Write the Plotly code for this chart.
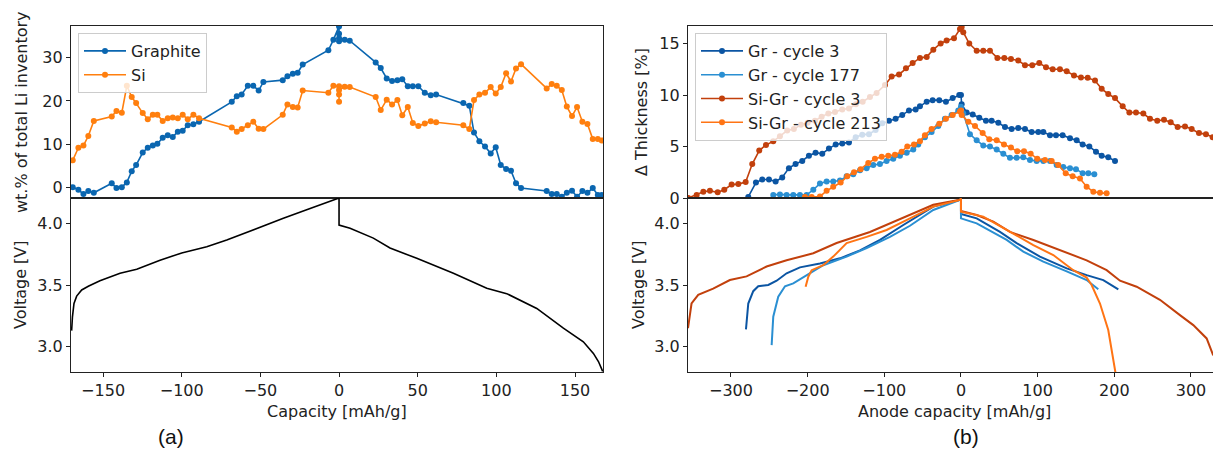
import plotly.graph_objects as go

# ---------------- (a) lithium inventory split vs. full-cell capacity ----------------
cap_li = [-169.3, -165.7, -162.5, -159.4, -155.9, -144.5, -141.5, -138.1, -134.9, -131.8,
          -129.0, -124.8, -121.6, -118.4, -115.5, -112.1, -108.9, -105.7, -102.5, -99.4,
          -96.2, -92.6, -89.0, -68.2, -65.0, -61.9, -58.0, -54.5, -51.1, -48.1,
          -35.8, -32.8, -29.4, -26.3, -23.1, -6.8, -3.6, 0.0, 0.0, 0.0,
          0.0, 3.6, 6.8, 23.3, 26.5, 30.3, 33.7, 37.1, 40.2, 43.7,
          46.9, 50.4, 54.5, 58.3, 61.7, 79.0, 82.8, 85.8, 89.2, 92.8,
          96.4, 99.6, 102.8, 106.2, 109.3, 112.5, 115.7, 132.0, 135.2, 138.4,
          141.6, 144.8, 148.1, 151.3, 154.7, 157.9, 161.3, 164.5, 167.0]
graphite_li = [0.1, -0.5, -1.5, -0.8, -1.2, 1.0, -0.1, 0.1, 1.2, 3.8,
               5.2, 8.1, 9.2, 9.7, 10.1, 11.5, 12.1, 11.7, 12.9, 13.1,
               14.4, 14.6, 15.2, 19.8, 21.1, 21.5, 23.5, 23.5, 22.4, 24.4,
               24.8, 25.7, 26.3, 26.5, 28.4, 31.7, 34.1, 37.2, 33.8, 35.5,
               34.5, 34.1, 33.9, 28.9, 27.6, 25.2, 24.6, 24.8, 25.0, 23.4,
               23.4, 23.4, 21.9, 21.3, 21.5, 19.5, 18.9, 12.7, 10.7, 9.5,
               7.9, 9.3, 5.2, 4.3, 3.9, 1.0, -0.1, -0.8, -1.5, -1.5,
               -2.1, -1.2, -0.7, -2.1, -0.8, -1.2, -0.1, -1.7, -1.7]
si_li = [6.3, 9.2, 9.7, 11.9, 15.4, 16.4, 17.7, 17.3, 23.5, 20.9,
         19.5, 17.2, 15.8, 16.8, 16.8, 15.4, 16.0, 16.2, 16.0, 16.8,
         15.8, 16.8, 16.0, 13.9, 12.9, 13.5, 14.4, 15.2, 13.6, 13.5,
         16.8, 19.2, 18.6, 18.5, 22.4, 21.9, 23.5, 23.4, 19.8, 21.5,
         22.5, 23.3, 23.2, 20.9, 17.9, 20.3, 19.2, 20.2, 16.7, 18.6,
         14.9, 14.2, 14.8, 15.3, 15.1, 14.4, 13.5, 20.2, 21.5, 21.9,
         23.2, 21.7, 23.2, 26.4, 24.5, 27.5, 28.5, 22.9, 23.9, 23.5,
         22.5, 18.7, 16.5, 18.6, 15.2, 14.7, 11.2, 11.2, 10.9]

cap_cell = [-170.0, -169.5, -168.5, -166.8, -163.6, -159.4, -152.0, -139.2, -128.6, -113.8,
            -100.0, -84.1, -71.4, -50.2, -35.4, -18.4, -1.5, 0.0, 0.0, 7.0,
            21.8, 32.4, 49.4, 72.7, 93.9, 106.6, 125.7, 142.6, 155.3, 161.7,
            164.9, 167.6]
volt_cell = [3.13, 3.24, 3.35, 3.41, 3.46, 3.49, 3.535, 3.595, 3.627, 3.70,
             3.76, 3.81, 3.865, 3.97, 4.04, 4.12, 4.20, 4.205, 3.986, 3.96,
             3.88, 3.80, 3.716, 3.595, 3.473, 3.43, 3.31, 3.15, 3.04, 2.946,
             2.88, 2.80]

# ---------------- (b) electrode thickness change vs. anode capacity ----------------
gr3_cap = [-277.4, -267.4, -259.2, -250.4, -241.7, -233.1, -224.4, -215.7, -207.0, -198.3,
           -189.6, -180.9, -172.2, -163.4, -154.8, -146.1, -137.3, -128.7, -120.0, -111.3,
           -102.6, -93.9, -85.2, -76.6, -67.8, -59.1, -53.5, -44.7, -37.0, -28.3,
           -19.6, -10.8, -2.2, 0.0, 0.9, 7.4, 15.3, 23.9, 32.6, 40.0,
           48.7, 57.4, 66.1, 74.7, 83.5, 92.2, 100.8, 107.4, 116.1, 123.9,
           132.6, 142.2, 150.9, 158.7, 167.4, 176.1, 183.5, 192.1, 200.9]
gr3_thk = [0.1, 1.5, 1.8, 1.8, 1.6, 2.0, 2.9, 3.3, 3.6, 4.1,
           4.4, 4.3, 4.8, 5.2, 5.3, 5.4, 5.9, 6.15, 6.2, 6.6,
           7.25, 7.5, 7.7, 8.05, 8.5, 8.6, 8.9, 9.35, 9.5, 9.5,
           9.35, 9.7, 10.0, 10.0, 9.1, 8.3, 8.1, 7.8, 7.5, 7.5,
           7.3, 6.9, 6.7, 6.8, 6.7, 6.4, 6.4, 6.4, 6.1, 6.1,
           6.1, 5.8, 5.6, 5.2, 5.0, 4.5, 4.1, 3.95, 3.6]

gr177_cap = [-244.8, -236.1, -227.4, -218.7, -210.0, -201.3, -192.6, -183.9, -175.2, -166.6,
             -157.8, -149.1, -140.5, -131.7, -123.0, -114.4, -105.7, -97.0, -88.3, -79.6,
             -70.8, -62.2, -55.7, -47.0, -38.3, -29.6, -20.9, -12.2, -3.5, 0.0,
             3.0, 11.7, 20.5, 29.1, 37.8, 46.6, 55.2, 63.9, 72.6, 81.3,
             90.0, 98.7, 107.4, 116.1, 124.8, 133.4, 142.2, 150.0, 158.7, 166.1,
             173.9]
gr177_thk = [0.3, 0.35, 0.3, 0.3, 0.3, 0.3, 0.8, 1.4, 1.6, 1.6,
             1.7, 2.1, 2.3, 2.7, 2.9, 3.2, 3.3, 3.6, 3.8, 4.1,
             4.4, 4.7, 5.2, 5.9, 6.4, 7.0, 7.7, 8.05, 8.5, 8.85,
             8.2, 6.2, 5.6, 5.1, 5.0, 4.7, 4.3, 3.9, 3.9, 3.95,
             3.7, 3.6, 3.6, 3.6, 3.2, 3.0, 2.9, 2.8, 2.4, 2.4,
             2.3]

sigr3_cap = [-355.7, -344.7, -336.0, -327.4, -317.3, -308.7, -299.1, -290.4, -280.8, -272.2,
             -263.1, -254.3, -244.8, -236.1, -226.6, -217.9, -208.7, -200.0, -190.4, -181.7,
             -173.0, -164.3, -154.8, -146.1, -137.0, -128.2, -118.7, -110.0, -99.1, -90.4,
             -80.8, -71.7, -63.0, -53.5, -44.7, -36.1, -26.5, -18.7, -9.1, -1.3,
             0.9, 3.0, 10.8, 20.5, 29.1, 37.8, 47.5, 56.5, 65.2, 74.7,
             83.5, 93.0, 102.1, 110.9, 119.6, 129.1, 137.9, 147.4, 156.5, 165.3,
             174.8, 183.5, 192.1, 200.9, 210.9, 219.6, 228.3, 237.8, 246.5, 256.0,
             264.8, 273.5, 282.6, 292.2, 300.9, 310.4, 319.5, 328.2]
sigr3_thk = [0.0, 0.3, 0.6, 0.7, 0.55, 0.8, 1.3, 1.35, 1.55, 3.3,
             4.6, 5.15, 5.5, 6.0, 6.55, 6.7, 7.1, 7.3, 7.5, 7.9,
             8.2, 8.35, 8.6, 8.7, 9.1, 9.35, 9.8, 10.2, 10.97, 11.8,
             12.0, 12.6, 13.1, 13.6, 13.7, 14.4, 15.0, 15.3, 15.5, 16.4,
             16.6, 16.1, 15.0, 14.3, 14.3, 14.3, 13.6, 13.6, 13.5, 13.35,
             12.9, 12.9, 13.1, 12.7, 12.5, 12.5, 12.3, 11.9, 11.7, 11.67,
             11.4, 10.6, 10.1, 9.7, 8.9, 8.3, 8.3, 8.2, 7.7, 7.5,
             7.6, 7.35, 6.9, 6.95, 6.7, 6.3, 6.2, 5.9]

sigr213_cap = [-203.5, -194.7, -183.9, -175.2, -166.6, -156.9, -148.3, -139.5, -130.8, -120.9,
               -112.2, -103.4, -94.8, -86.1, -77.4, -70.0, -61.3, -53.5, -47.0, -38.3,
               -28.3, -19.6, -10.8, -1.3, 0.0, 0.9, 9.6, 18.3, 28.3, 36.9,
               46.6, 56.1, 65.2, 73.4, 82.2, 90.9, 99.5, 109.6, 118.3, 126.9,
               136.6, 145.7, 155.2, 163.9, 172.6, 181.3, 190.0]
sigr213_thk = [0.1, 0.1, 0.15, 0.7, 1.1, 1.5, 2.1, 2.5, 2.8, 3.4,
               3.8, 4.0, 4.1, 4.2, 4.5, 5.0, 5.2, 5.5, 6.1, 6.7,
               7.2, 7.7, 8.05, 8.4, 8.5, 8.05, 7.4, 7.0, 6.3, 5.7,
               5.6, 5.2, 4.9, 4.55, 4.55, 4.3, 3.8, 3.7, 3.6, 3.2,
               2.4, 2.1, 1.9, 1.1, 0.6, 0.5, 0.45]

# voltage profiles against anode capacity
gr3_vcap = [-280.4, -277.4, -270.9, -264.4, -251.3, -240.4, -227.4, -210.0, -183.9, -157.8,
            -131.7, -105.6, -75.2, -53.5, -36.1, -1.3, 0.0, 0.0, 20.5, 50.9,
            72.6, 103.0, 137.9, 163.9, 185.6, 205.2]
gr3_volt = [3.14, 3.35, 3.45, 3.49, 3.50, 3.535, 3.595, 3.643, 3.675, 3.716,
            3.78, 3.865, 3.986, 4.067, 4.135, 4.19, 4.20, 4.075, 4.04, 3.93,
            3.84, 3.73, 3.635, 3.58, 3.54, 3.465]

gr177_vcap = [-246.9, -244.8, -238.3, -229.5, -218.7, -201.3, -179.6, -149.1, -123.0, -92.6,
              -66.5, -36.1, -1.3, 0.0, 0.0, 20.5, 59.6, 81.3, 107.4, 137.9,
              163.9, 179.1]
gr177_volt = [3.013, 3.243, 3.405, 3.49, 3.513, 3.58, 3.66, 3.73, 3.80, 3.89,
              3.98, 4.108, 4.19, 4.20, 4.04, 4.0, 3.865, 3.77, 3.69, 3.61,
              3.54, 3.465]

sigr3_vcap = [-356.0, -351.4, -342.7, -323.2, -301.4, -279.6, -253.5, -227.4, -192.6, -162.2,
              -118.7, -77.0, -36.1, -1.3, 0.0, 0.0, 20.5, 42.2, 63.9, 94.4,
              129.1, 163.9, 190.0, 207.4, 229.1, 259.5, 285.6, 303.0, 320.4, 329.0]
sigr3_volt = [3.15, 3.35, 3.42, 3.47, 3.54, 3.57, 3.65, 3.70, 3.757, 3.84,
              3.93, 4.04, 4.15, 4.19, 4.20, 4.10, 4.067, 4.013, 3.93, 3.865,
              3.78, 3.70, 3.62, 3.535, 3.486, 3.38, 3.256, 3.175, 3.067, 2.93]

sigr213_vcap = [-202.6, -199.1, -194.7, -179.6, -166.6, -149.1, -123.0, -97.0, -66.5, -36.1,
                -1.3, 0.0, 0.0, 29.1, 59.6, 94.4, 120.4, 146.5, 163.9, 170.4,
                181.3, 192.1, 201.5]
sigr213_volt = [3.486, 3.567, 3.62, 3.66, 3.73, 3.84, 3.89, 3.946, 4.04, 4.135,
                4.19, 4.20, 4.094, 4.054, 3.946, 3.824, 3.743, 3.62, 3.56, 3.5,
                3.35, 3.135, 2.79]

# ---------------- styling ----------------
W, H = 1213, 462
C_GRAPHITE = "#0a66b0"
C_SI = "#ff7f0e"
C_GR3 = "#0b55a3"
C_GR177 = "#2a8fd2"
C_SIGR3 = "#c2400c"
C_SIGR213 = "#ff7414"
AX = "#222222"
FONT = "DejaVu Sans"


def fx(p):
    return p / W


def fy(p):
    return 1 - p / H


fig = go.Figure()


def dots(x, y, color, name, xa, ya, legend):
    fig.add_trace(go.Scatter(
        x=x, y=y, mode="lines+markers", name=name,
        line=dict(color=color, width=1.6),
        marker=dict(color=color, size=6),
        xaxis=xa, yaxis=ya, legend=legend,
    ))


def curve(x, y, color, xa, ya, width=2.0):
    fig.add_trace(go.Scatter(
        x=x, y=y, mode="lines", showlegend=False,
        line=dict(color=color, width=width),
        xaxis=xa, yaxis=ya,
    ))


dots(cap_li, graphite_li, C_GRAPHITE, "Graphite", "x", "y", "legend")
dots(cap_li, si_li, C_SI, "Si", "x", "y", "legend")
curve(cap_cell, volt_cell, "#000000", "x2", "y2", width=1.6)

dots(gr3_cap, gr3_thk, C_GR3, "Gr - cycle 3", "x3", "y3", "legend2")
dots(gr177_cap, gr177_thk, C_GR177, "Gr - cycle 177", "x3", "y3", "legend2")
dots(sigr3_cap, sigr3_thk, C_SIGR3, "Si-Gr - cycle 3", "x3", "y3", "legend2")
dots(sigr213_cap, sigr213_thk, C_SIGR213, "Si-Gr - cycle 213", "x3", "y3", "legend2")

curve(gr3_vcap, gr3_volt, C_GR3, "x4", "y4")
curve(gr177_vcap, gr177_volt, C_GR177, "x4", "y4")
curve(sigr3_vcap, sigr3_volt, C_SIGR3, "x4", "y4")
curve(sigr213_vcap, sigr213_volt, C_SIGR213, "x4", "y4")

axis_common = dict(showgrid=False, zeroline=False, showline=True, linecolor=AX,
                   linewidth=1.2, tickcolor=AX, tickwidth=1.2, ticklen=4,
                   automargin=False,
                   tickfont=dict(family=FONT, size=16, color="#222222"))

left_dom = [fx(71), fx(603)]
right_dom = [fx(688), 1.0]
top_dom = [fy(198), fy(26)]
bot_dom = [fy(372), fy(198)]
left_range = [-170.4, 167.8]
right_range = [-356.0, 328.7]

legend_style = dict(xanchor="left", yanchor="top",
                    bgcolor="rgba(255,255,255,0.8)", bordercolor="#cccccc", borderwidth=1,
                    font=dict(family=FONT, size=16, color="#222222"), tracegroupgap=0,
                    itemwidth=42)

fig.update_layout(
    width=W, height=H, autosize=False,
    margin=dict(l=0, r=0, t=0, b=0, pad=0, autoexpand=False),
    paper_bgcolor="white", plot_bgcolor="white",
    font=dict(family=FONT, size=16, color="#222222"),
    xaxis=dict(domain=left_dom, anchor="y", range=left_range, mirror=True,
               showticklabels=False, ticks="", **axis_common),
    yaxis=dict(domain=top_dom, anchor="x", range=[-2.4, 37.3], mirror=True,
               tickvals=[0, 10, 20, 30], ticks="outside", **axis_common),
    xaxis2=dict(domain=left_dom, anchor="y2", range=left_range, mirror=True,
                tickvals=[-150, -100, -50, 0, 50, 100, 150], ticks="outside", **axis_common),
    yaxis2=dict(domain=bot_dom, anchor="x2", range=[2.795, 4.205], mirror=True,
                tickvals=[3.0, 3.5, 4.0], tickformat=".1f", ticks="outside", **axis_common),
    xaxis3=dict(domain=right_dom, anchor="y3", range=right_range, mirror=True,
                showticklabels=False, ticks="", **axis_common),
    yaxis3=dict(domain=top_dom, anchor="x3", range=[0, 16.7], mirror=False,
                tickvals=[0, 5, 10, 15], ticks="outside", **axis_common),
    xaxis4=dict(domain=right_dom, anchor="y4", range=right_range, mirror=True,
                tickvals=[-300, -200, -100, 0, 100, 200, 300], ticks="outside", **axis_common),
    yaxis4=dict(domain=bot_dom, anchor="x4", range=[2.795, 4.205], mirror=False,
                tickvals=[3.0, 3.5, 4.0], tickformat=".1f", ticks="outside", **axis_common),
    legend=dict(x=fx(78), y=fy(33), **legend_style),
    legend2=dict(x=fx(695), y=fy(33), **legend_style),
)

titles = [
    dict(text="wt.% of total Li inventory", x=fx(21), y=fy(112), textangle=-90),
    dict(text="Voltage [V]", x=fx(20), y=fy(285), textangle=-90),
    dict(text="Capacity [mAh/g]", x=fx(337), y=fy(411), textangle=0),
    dict(text="\u0394 Thickness [%]", x=fx(641), y=fy(112), textangle=-90),
    dict(text="Voltage [V]", x=fx(638), y=fy(285), textangle=-90),
    dict(text="Anode capacity [mAh/g]", x=fx(954), y=fy(411), textangle=0),
]
for t in titles:
    fig.add_annotation(xref="paper", yref="paper", showarrow=False,
                       xanchor="center", yanchor="middle",
                       font=dict(family=FONT, size=16, color="#222222"), **t)

for label, xc in (("(a)", 171), ("(b)", 966)):
    fig.add_annotation(text=label, xref="paper", yref="paper", x=fx(xc), y=fy(436),
                       xanchor="center", yanchor="middle", showarrow=False,
                       font=dict(family="Liberation Sans", size=21, color="#111111"))

fig.write_html("out.html")
